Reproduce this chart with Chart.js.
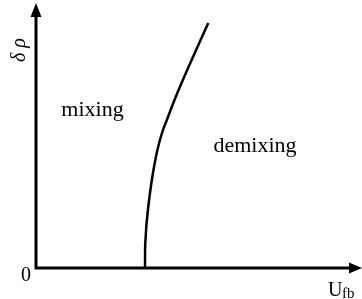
<!DOCTYPE html>
<html><head><meta charset="utf-8">
<script src="https://cdn.jsdelivr.net/npm/chart.js@4/dist/chart.umd.min.js"></script>
<style>html,body{margin:0;padding:0;background:#fff}#c{display:block}</style>
</head><body>
<div style="width:362px;height:299px"><canvas id="c" width="362" height="299"></canvas></div>
<script>
// Phase boundary, in arbitrary units of U_fb (x) and δρ (y)
const boundaryU = [109, 109.1, 109.5, 110.2, 111.4, 113.1, 115.4, 118, 121.4, 126, 132, 138.5, 146, 161, 172.3];
const boundaryDRho = [0, 18, 28, 40, 53, 68, 85, 101, 118, 135, 151, 168, 186, 220, 245];
const regionLabels = ['mixing', 'demixing'];
const regionU = [56.5, 219];
const regionDRho = [152, 116];
const xMax = 320, yMax = 260;

const arrows = {
  id: 'arrows',
  afterDatasetsDraw(chart) {
    const {ctx, scales: {x, y}} = chart;
    const x0 = x.getPixelForValue(0), y0 = y.getPixelForValue(0);
    ctx.save();
    ctx.strokeStyle = '#000'; ctx.fillStyle = '#000'; ctx.lineWidth = 3;
    ctx.beginPath();
    ctx.moveTo(x0, y0 + 1.5); ctx.lineTo(x0, 14);
    ctx.moveTo(x0 - 1.5, y0); ctx.lineTo(352, y0);
    ctx.stroke();
    ctx.beginPath();
    ctx.moveTo(x0, 3); ctx.lineTo(x0 - 5.5, 17); ctx.lineTo(x0 + 5.5, 17); ctx.closePath(); ctx.fill();
    ctx.beginPath();
    ctx.moveTo(362, y0); ctx.lineTo(349, y0 - 5.5); ctx.lineTo(349, y0 + 5.5); ctx.closePath(); ctx.fill();
    // texts
    ctx.textAlign = 'center'; ctx.textBaseline = 'alphabetic';
    ctx.font = '22px "Liberation Serif"';
    regionLabels.forEach((t, i) => {
      ctx.fillText(t, x.getPixelForValue(regionU[i]), y.getPixelForValue(regionDRho[i]));
    });
    ctx.font = '20px "Liberation Serif"';
    ctx.fillText('0', x0 - 10, y0 + 13);
    ctx.textAlign = 'left';
    ctx.fillText('U', 328, 296);
    ctx.font = '15px "Liberation Serif"';
    ctx.fillText('fb', 342, 298);
    ctx.translate(20, 50); ctx.rotate(-Math.PI / 2);
    ctx.textAlign = 'center'; ctx.textBaseline = 'middle';
    ctx.font = 'italic 20px "Liberation Serif"';
    ctx.fillText('δ ρ', 0, 0);
    ctx.restore();
  }
};

new Chart(document.getElementById('c'), {
  type: 'scatter',
  data: {
    datasets: [{
      data: boundaryU.map((u, i) => ({x: u, y: boundaryDRho[i]})),
      showLine: true, borderColor: '#000', borderWidth: 2.5,
      pointRadius: 0, cubicInterpolationMode: 'monotone', fill: false
    }]
  },
  options: {
    responsive: false, animation: false,
    layout: {padding: {left: 36, right: 6, top: 8, bottom: 31}},
    plugins: {legend: {display: false}, tooltip: {enabled: false}},
    scales: {
      x: {type: 'linear', display: false, min: 0, max: xMax},
      y: {type: 'linear', display: false, min: 0, max: yMax}
    }
  },
  plugins: [arrows]
});
</script>
</body></html>
